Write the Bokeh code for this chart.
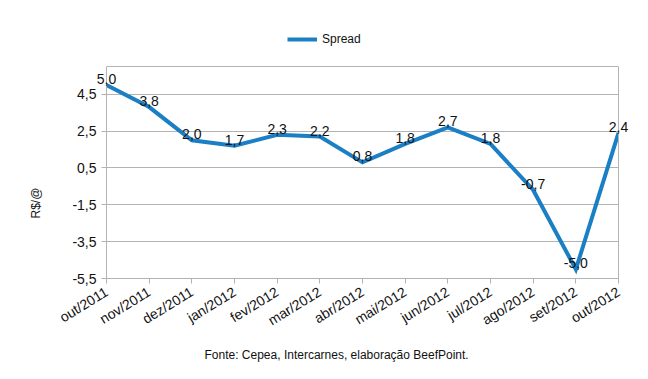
from bokeh.plotting import figure
from bokeh.models import (ColumnDataSource, Legend, LegendItem, Title, FixedTicker, Range1d,
                          LinearAxis)
from bokeh.core.properties import value
from bokeh.embed import file_html
from bokeh.resources import INLINE

months = ["out/2011", "nov/2011", "dez/2011", "jan/2012", "fev/2012", "mar/2012",
          "abr/2012", "mai/2012", "jun/2012", "jul/2012", "ago/2012", "set/2012", "out/2012"]
spread = [5.0, 3.8, 2.0, 1.7, 2.3, 2.2, 0.8, 1.8, 2.7, 1.8, -0.7, -5.0, 2.4]
y_ticks = [-5.5, -3.5, -1.5, 0.5, 2.5, 4.5]
y_min, y_max = -5.5, 6.0

FONT = "Liberation Sans"
LINE_COLOR = "#1a7fc4"
GRID = "#b3b3b3"
TXT = "#111111"

idx = list(range(len(months)))
labels = [f"{v:.1f}".replace(".", ",") for v in spread]
src = ColumnDataSource(dict(x=idx, y=spread, lab=labels))

W, H = 648, 379
F_LEFT, F_RIGHT, F_TOP, F_BOTTOM = 105, 618, 25, 278
px_y = (278 - 66) / (y_max - y_min)
y_top = y_max + (66 - F_TOP) / px_y   # extra room above the chart for the legend

p = figure(width=W, height=H, output_backend="svg", toolbar_location=None,
           x_range=Range1d(0, len(months) - 1), y_range=Range1d(y_min, y_top),
           min_border_left=F_LEFT, min_border_right=W - F_RIGHT,
           min_border_top=F_TOP, min_border_bottom=H - F_BOTTOM)
p.outline_line_color = None

p.xgrid.visible = False
p.ygrid.ticker = FixedTicker(ticks=y_ticks + [y_max])
p.ygrid.grid_line_color = GRID

r = p.line("x", "y", source=src, line_color=LINE_COLOR, line_width=4, line_join="miter")
p.text("x", "y", text="lab", source=src, text_align="center", text_baseline="alphabetic",
       y_offset=-6, text_font=value(FONT), text_font_size="14px", text_color=TXT,
       level="overlay")

p.yaxis.ticker = FixedTicker(ticks=y_ticks)
p.yaxis.major_label_overrides = {t: f"{t:.1f}".replace(".", ",") for t in y_ticks}
p.yaxis.bounds = (y_min, y_max)
p.xaxis.ticker = FixedTicker(ticks=idx)
p.xaxis.major_label_overrides = {i: m for i, m in enumerate(months)}
p.xaxis.major_label_orientation = 0.55
p.xaxis.major_label_standoff = 7

for ax in (p.xaxis, p.yaxis):
    ax.axis_line_color = GRID
    ax.major_tick_line_color = GRID
    ax.major_tick_out = 5
    ax.major_tick_in = 0
    ax.minor_tick_line_color = None
    ax.major_label_text_font = FONT
    ax.major_label_text_font_size = "14px"
    ax.major_label_text_color = TXT

right_border = LinearAxis(bounds=(y_min, y_max), ticker=FixedTicker(ticks=[]),
                          axis_line_color=GRID, major_tick_line_color=None,
                          minor_tick_line_color=None, major_label_text_font_size="0px")
p.add_layout(right_border, "right")

legend = Legend(items=[LegendItem(label="Spread", renderers=[r])], orientation="horizontal",
                location=(286 - F_LEFT, F_BOTTOM - 46), label_text_font=FONT,
                label_text_font_size="12px", label_text_color=TXT,
                border_line_color=None, background_fill_alpha=0, glyph_width=30,
                glyph_height=14, label_height=14, label_standoff=5, margin=0, padding=0)
p.add_layout(legend, "center")

has_standoff = "standoff" in Title.properties()

ylab = Title(text="R$/@", align="left", offset=60, text_font=FONT, text_font_size="12px",
             text_font_style="normal", text_color=TXT)
foot = Title(text="Fonte: Cepea, Intercarnes, elaboração BeefPoint.", align="left",
             offset=203 - F_LEFT, text_font=FONT, text_font_size="12px",
             text_font_style="normal", text_color=TXT)
if has_standoff:
    ylab.standoff = 53
    foot.standoff = 14
p.add_layout(ylab, "left")
p.add_layout(foot, "below")

open("out.html", "w").write(file_html(p, INLINE))
